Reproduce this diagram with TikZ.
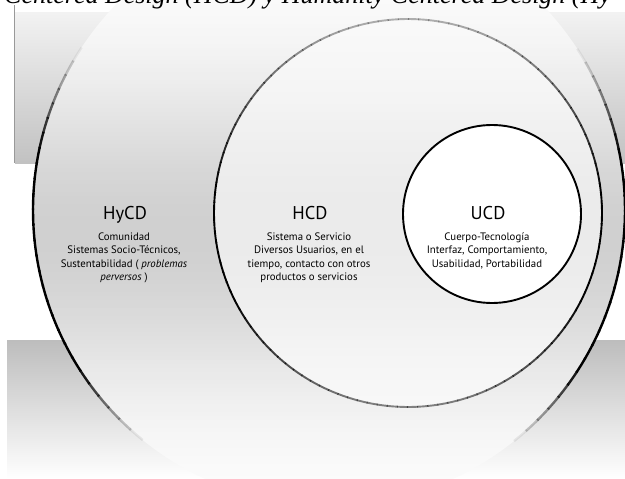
\documentclass[tikz,border=0pt]{standalone}
\usepackage{fontspec}
\setmainfont{Liberation Serif}
\newfontfamily\humsans{PT Sans}
\definecolor{bandtop}{gray}{0.95}
\definecolor{bandbot}{gray}{0.76}
\definecolor{lowtop}{gray}{0.74}
\begin{document}
\begin{tikzpicture}[x=1pt,y=-1pt,
  ring/.style={circle, inner sep=0pt, outer sep=0pt},
  seg/.style={line width=2.4pt, line cap=butt, black},
  titletext/.style={font=\humsans\fontsize{18.5}{20}\selectfont, inner sep=0pt},
  bodytext/.style={font=\humsans\fontsize{10.8}{13.5}\selectfont, align=center, inner sep=0pt}]
\useasboundingbox (0,0) rectangle (625,479);
\clip (0,0) rectangle (625,479);
\fill[white] (0,0) rectangle (625,479);
% background bands
\shade[top color=bandtop, bottom color=bandbot] (15,12) rectangle (625,163);
\draw[gray!80, line width=0.6pt] (14.5,5) -- (14.5,163);
\shade[top color=lowtop, bottom color=white] (7,340) rectangle (625,479);
% outer circle
\node[ring, minimum size=592pt] (hycd) at (329,210) {};
\begin{scope}
  \clip (hycd.center) circle[radius=296];
  \foreach \yb in {-88,-84,...,504}{
    \pgfmathsetmacro\dk{18.5*exp(-((\yb+2-235)/157)^2)}
    \fill[black!\dk] (30,\yb) rectangle (630,\yb+4.4);
  }
\end{scope}
\foreach \a in {0,3,...,357}{
  \pgfmathsetmacro\yy{210+296*sin(\a+1.5)}
  \pgfmathsetmacro\op{max(0,min(1,min((\yy-50)/100,(440-\yy)/70)))}
  \draw[seg, draw opacity=\op] ([shift={(\a:296)}]hycd.center) arc[start angle=\a, end angle=\a+3.3, radius=296];
}
% middle circle
\node[ring, minimum size=388pt] (hcd) at (408,213) {};
\begin{scope}
  \clip (hcd.center) circle[radius=194];
  \foreach \yb in {16,20,...,408}{
    \pgfmathsetmacro\dk{6.5*exp(-((\yb+2-225)/140)^2)+1.5}
    \fill[black!\dk] (210,\yb) rectangle (606,\yb+4.4);
  }
\end{scope}
\foreach \a in {0,3,...,357}{
  \pgfmathsetmacro\yy{213+194*sin(\a+1.5)}
  \pgfmathsetmacro\op{max(0,min(1,min(0.3+(\yy-20)/170*0.7,0.45+(410-\yy)/110*0.55)))}
  \draw[seg, line width=1.9pt, draw opacity=\op] ([shift={(\a:194)}]hcd.center) arc[start angle=\a, end angle=\a+3.3, radius=194];
}
% inner circle
\node[ring, minimum size=178pt, fill=white, draw=black, line width=1.9pt] (ucd) at (492,214) {};
% texts
\node[titletext, anchor=base] (hycdT) at (125,219) {HyCD};
\node[bodytext, anchor=north] (hycdB) at (124,232.5) {Comunidad\\Sistemas Socio-Técnicos,\\Sustentabilidad ( \textit{problemas}\\\textit{perversos} )};
\node[titletext, anchor=base] (hcdT) at (310,219) {HCD};
\node[bodytext, anchor=north] (hcdB) at (309,232.5) {Sistema o Servicio\\Diversos Usuarios, en el\\tiempo, contacto con otros\\productos o servicios};
\node[titletext, anchor=base] (ucdT) at (488,219) {UCD};
\node[bodytext, anchor=north] (ucdB) at (487,232.5) {Cuerpo-Tecnología\\Interfaz, Comportamiento,\\Usabilidad, Portabilidad};
% cut caption at the top
\node[anchor=base west, inner sep=0pt, font=\fontsize{26}{30}\selectfont\itshape] (caption) at (4,3) {Centered Design (HCD) y Humanity Centered Design (Hy};
\end{tikzpicture}
\end{document}
